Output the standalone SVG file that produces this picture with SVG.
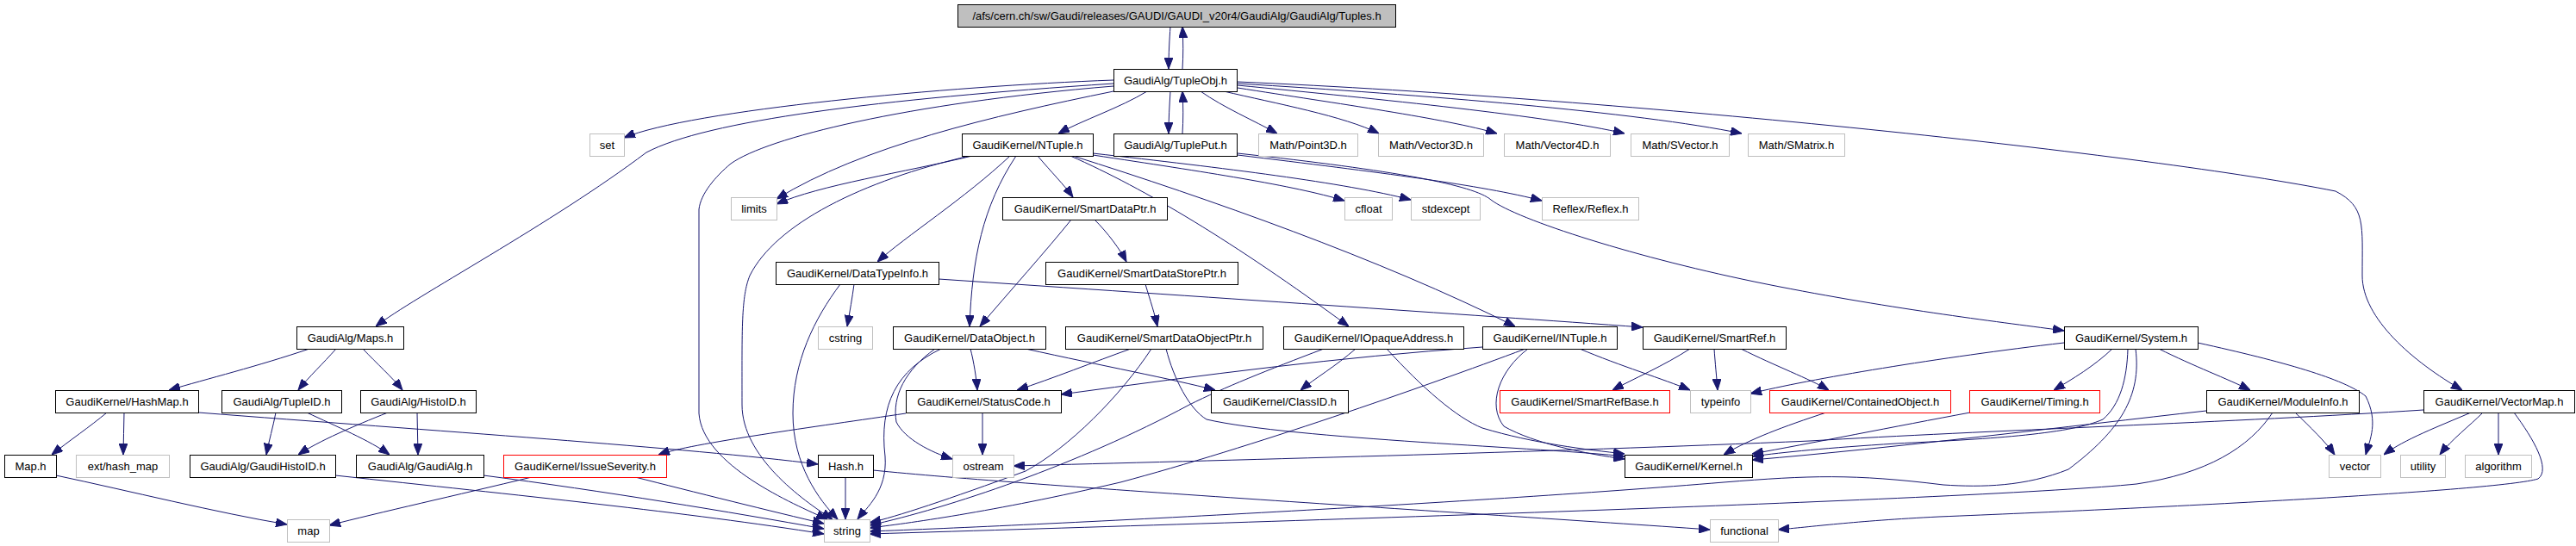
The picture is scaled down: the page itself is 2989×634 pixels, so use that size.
<svg xmlns="http://www.w3.org/2000/svg" width="2989" height="634" viewBox="0 0 2989 634">
<style>
rect{fill:#fff;stroke:#000;stroke-width:1}
.g rect{stroke:#bfbfbf}
.r rect{stroke:#ff0000}
.root rect{fill:#bfbfbf}
text{font-family:"Liberation Sans",Arial,sans-serif;font-size:13px;text-anchor:middle;fill:#000}
#edges path{fill:none;stroke:#191970;stroke-width:1;marker-end:url(#a)}
</style>
<defs>
<marker id="a" markerWidth="13" markerHeight="10" refX="13" refY="5" orient="auto" markerUnits="userSpaceOnUse"><path d="M0,0 L13,5 L0,10 z" fill="#191970" stroke="#191970"/></marker>
</defs>
<rect x="0" y="0" width="2989" height="634" style="fill:#fff;stroke:none"/>
<g id="edges">
<path d="M1358,31 C1357,45 1356,62 1356,80"/>
<path d="M1372,80 C1373,65 1373,48 1372,31"/>
<path d="M1292,93 C1100,100 800,128 724,160"/>
<path d="M1292,97 C1020,115 820,140 750,177 C640,260 480,345 436,379"/>
<path d="M1292,100 C1050,120 890,160 848,190 C830,205 813,225 811,243 L811,480 C815,540 920,585 960,603"/>
<path d="M1292,106 C1150,135 1000,170 901,231"/>
<path d="M1128,181 C1050,200 950,215 901,237"/>
<path d="M1331,106 C1300,125 1255,140 1228,155"/>
<path d="M1358,106 C1357,122 1356,138 1356,155"/>
<path d="M1372,155 C1373,140 1373,122 1372,106"/>
<path d="M1393,106 C1420,125 1455,140 1482,155"/>
<path d="M1420,106 C1480,120 1560,135 1600,155"/>
<path d="M1436,102 C1550,120 1680,138 1737,155"/>
<path d="M1436,99 C1600,115 1800,135 1885,155"/>
<path d="M1436,97 C1650,110 1900,130 2021,155"/>
<path d="M1436,95 C1900,115 2500,180 2710,222 C2745,240 2741,260 2741,320 C2741,370 2800,420 2857,453"/>
<path d="M1125,181 C1000,210 900,260 870,320 C860,345 861,380 861,470 C861,530 930,580 966,603"/>
<path d="M1172,181 C1120,230 1050,275 1018,304"/>
<path d="M1179,181 C1140,240 1128,300 1125,379"/>
<path d="M1204,181 C1220,200 1235,215 1245,229"/>
<path d="M1242,181 C1330,220 1430,280 1565,379"/>
<path d="M1245,181 C1400,230 1600,300 1758,379"/>
<path d="M1268,180 C1400,200 1500,215 1560,233"/>
<path d="M1268,178 C1420,195 1560,212 1637,232"/>
<path d="M1436,180 C1600,200 1720,215 1789,233"/>
<path d="M1436,178 C1620,198 1710,215 1730,232 C1760,255 1900,300 2050,330 C2200,360 2330,375 2395,384"/>
<path d="M1243,255 C1215,290 1170,340 1137,379"/>
<path d="M1270,255 C1285,270 1300,290 1307,304"/>
<path d="M1329,330 C1335,350 1340,365 1343,379"/>
<path d="M991,330 C989,345 986,362 983,379"/>
<path d="M975,330 C945,370 920,420 920,480 C920,540 950,580 972,603"/>
<path d="M1089,324 C1400,345 1700,365 1906,380"/>
<path d="M1092,405 C1040,430 1020,470 1027,530 C1030,570 1005,590 995,603"/>
<path d="M1085,405 C1050,430 1035,460 1040,490 C1050,510 1080,525 1105,533"/>
<path d="M1126,405 C1130,420 1133,440 1134,453"/>
<path d="M1190,405 C1280,425 1360,440 1410,453"/>
<path d="M1312,405 C1270,420 1220,440 1180,453"/>
<path d="M1336,405 C1300,460 1240,520 1190,547 C1100,580 1040,600 1009,607"/>
<path d="M1353,405 C1362,440 1380,475 1400,487 C1500,510 1800,520 1885,530"/>
<path d="M1573,405 C1550,425 1525,440 1509,453"/>
<path d="M1609,405 C1650,450 1690,485 1720,497 C1780,515 1840,522 1885,527"/>
<path d="M1536,405 C1470,430 1420,450 1380,470 C1250,540 1100,590 1009,610"/>
<path d="M1720,403 C1550,415 1400,435 1231,458"/>
<path d="M1770,405 C1650,450 1450,520 1300,560 C1150,595 1050,608 1009,613"/>
<path d="M1773,405 C1740,430 1725,470 1745,495 C1780,515 1840,527 1885,533"/>
<path d="M1833,405 C1880,425 1930,440 1961,453"/>
<path d="M1961,405 C1930,425 1895,440 1871,453"/>
<path d="M1989,405 C1990,420 1992,440 1993,453"/>
<path d="M2020,405 C2060,425 2100,440 2122,453"/>
<path d="M2395,398 C2250,415 2100,440 2031,457"/>
<path d="M2451,405 C2430,425 2405,440 2383,453"/>
<path d="M2505,405 C2545,425 2585,440 2611,453"/>
<path d="M2550,398 C2650,420 2720,440 2745,460 C2760,490 2750,510 2745,528"/>
<path d="M2469,405 C2468,440 2460,470 2440,487 C2400,505 2300,510 2200,515 C2120,520 2070,525 2033,530"/>
<path d="M2478,405 C2485,460 2460,500 2400,545 C2350,565 2300,566 2255,563 C2150,550 2100,552 2000,560 C1700,585 1200,610 1009,617"/>
<path d="M2286,479 C2200,495 2100,515 2033,527"/>
<path d="M2560,477 C2400,495 2200,520 2033,534"/>
<path d="M2663,479 C2680,495 2700,515 2709,528"/>
<path d="M2637,479 C2610,520 2560,550 2479,562 C2300,580 1500,605 1009,620"/>
<path d="M2867,479 C2830,495 2790,510 2766,528"/>
<path d="M2881,479 C2865,495 2845,510 2831,528"/>
<path d="M2899,479 L2899,528"/>
<path d="M2917,479 C2940,510 2960,545 2945,556 C2900,570 2500,590 2250,600 C2150,605 2100,612 2063,615"/>
<path d="M2812,476 C2600,490 2300,500 2100,512 C1800,525 1400,535 1176,541"/>
<path d="M2119,479 C2070,495 2030,510 2000,528"/>
<path d="M1051,480 C950,495 800,515 764,528"/>
<path d="M1140,479 L1140,528"/>
<path d="M981,554 L981,603"/>
<path d="M1013,546 C1200,565 1700,595 1984,615"/>
<path d="M230,479 C500,500 800,520 949,539"/>
<path d="M124,479 C105,495 80,512 60,528"/>
<path d="M144,479 C144,495 143,512 143,528"/>
<path d="M359,405 C300,425 240,440 196,453"/>
<path d="M390,405 C375,422 358,438 346,453"/>
<path d="M421,405 C437,422 455,438 467,453"/>
<path d="M320,479 C317,495 312,512 309,528"/>
<path d="M356,479 C390,495 430,512 452,528"/>
<path d="M450,479 C410,495 370,512 346,528"/>
<path d="M484,479 L485,528"/>
<path d="M389,552 C600,575 800,595 956,620"/>
<path d="M561,552 C700,570 850,595 956,614"/>
<path d="M737,554 C800,570 900,595 956,608"/>
<path d="M617,554 C530,575 440,595 382,610"/>
<path d="M65,552 C150,570 250,595 333,609"/>
</g>
<g id="n_root" class="root"><rect x="1111.5" y="5.5" width="508" height="26"/><text x="1365.5" y="23">/afs/cern.ch/sw/Gaudi/releases/GAUDI/GAUDI_v20r4/GaudiAlg/GaudiAlg/Tuples.h</text></g>
<g id="n_tupleobj"><rect x="1292.5" y="80.5" width="143" height="26"/><text x="1364" y="98">GaudiAlg/TupleObj.h</text></g>
<g id="n_set" class="g"><rect x="684.5" y="155.5" width="40" height="26"/><text x="704.5" y="173">set</text></g>
<g id="n_ntuple"><rect x="1116.5" y="155.5" width="152" height="26"/><text x="1192.5" y="173">GaudiKernel/NTuple.h</text></g>
<g id="n_tupleput"><rect x="1292.5" y="155.5" width="143" height="26"/><text x="1364" y="173">GaudiAlg/TuplePut.h</text></g>
<g id="n_point3d" class="g"><rect x="1460.5" y="155.5" width="115" height="26"/><text x="1518" y="173">Math/Point3D.h</text></g>
<g id="n_vector3d" class="g"><rect x="1599.5" y="155.5" width="122" height="26"/><text x="1660.5" y="173">Math/Vector3D.h</text></g>
<g id="n_vector4d" class="g"><rect x="1745.5" y="155.5" width="123" height="26"/><text x="1807" y="173">Math/Vector4D.h</text></g>
<g id="n_svector" class="g"><rect x="1892.5" y="155.5" width="114" height="26"/><text x="1949.5" y="173">Math/SVector.h</text></g>
<g id="n_smatrix" class="g"><rect x="2028.5" y="155.5" width="112" height="26"/><text x="2084.5" y="173">Math/SMatrix.h</text></g>
<g id="n_limits" class="g"><rect x="848.5" y="229.5" width="53" height="26"/><text x="875" y="247">limits</text></g>
<g id="n_smartdataptr"><rect x="1163.5" y="229.5" width="191" height="26"/><text x="1259" y="247">GaudiKernel/SmartDataPtr.h</text></g>
<g id="n_cfloat" class="g"><rect x="1560.5" y="229.5" width="55" height="26"/><text x="1588" y="247">cfloat</text></g>
<g id="n_stdexcept" class="g"><rect x="1637.5" y="229.5" width="80" height="26"/><text x="1677.5" y="247">stdexcept</text></g>
<g id="n_reflex" class="g"><rect x="1789.5" y="229.5" width="112" height="26"/><text x="1845.5" y="247">Reflex/Reflex.h</text></g>
<g id="n_datatypeinfo"><rect x="900.5" y="304.5" width="189" height="26"/><text x="995" y="322">GaudiKernel/DataTypeInfo.h</text></g>
<g id="n_smartdatastoreptr"><rect x="1213.5" y="304.5" width="223" height="26"/><text x="1325" y="322">GaudiKernel/SmartDataStorePtr.h</text></g>
<g id="n_maps"><rect x="344.5" y="379.5" width="124" height="26"/><text x="406.5" y="397">GaudiAlg/Maps.h</text></g>
<g id="n_cstring" class="g"><rect x="949.5" y="379.5" width="63" height="26"/><text x="981" y="397">cstring</text></g>
<g id="n_dataobject"><rect x="1036.5" y="379.5" width="177" height="26"/><text x="1125" y="397">GaudiKernel/DataObject.h</text></g>
<g id="n_smartdataobjectptr"><rect x="1236.5" y="379.5" width="229" height="26"/><text x="1351" y="397">GaudiKernel/SmartDataObjectPtr.h</text></g>
<g id="n_iopaqueaddress"><rect x="1489.5" y="379.5" width="209" height="26"/><text x="1594" y="397">GaudiKernel/IOpaqueAddress.h</text></g>
<g id="n_intuple"><rect x="1720.5" y="379.5" width="156" height="26"/><text x="1798.5" y="397">GaudiKernel/INTuple.h</text></g>
<g id="n_smartref"><rect x="1906.5" y="379.5" width="166" height="26"/><text x="1989.5" y="397">GaudiKernel/SmartRef.h</text></g>
<g id="n_system"><rect x="2395.5" y="379.5" width="155" height="26"/><text x="2473" y="397">GaudiKernel/System.h</text></g>
<g id="n_hashmap"><rect x="64.5" y="453.5" width="166" height="26"/><text x="147.5" y="471">GaudiKernel/HashMap.h</text></g>
<g id="n_tupleid"><rect x="257.5" y="453.5" width="139" height="26"/><text x="327" y="471">GaudiAlg/TupleID.h</text></g>
<g id="n_histoid"><rect x="418.5" y="453.5" width="134" height="26"/><text x="485.5" y="471">GaudiAlg/HistoID.h</text></g>
<g id="n_statuscode"><rect x="1051.5" y="453.5" width="180" height="26"/><text x="1141.5" y="471">GaudiKernel/StatusCode.h</text></g>
<g id="n_classid"><rect x="1405.5" y="453.5" width="159" height="26"/><text x="1485" y="471">GaudiKernel/ClassID.h</text></g>
<g id="n_smartrefbase" class="r"><rect x="1740.5" y="453.5" width="197" height="26"/><text x="1839" y="471">GaudiKernel/SmartRefBase.h</text></g>
<g id="n_typeinfo" class="g"><rect x="1961.5" y="453.5" width="70" height="26"/><text x="1996.5" y="471">typeinfo</text></g>
<g id="n_containedobject" class="r"><rect x="2053.5" y="453.5" width="210" height="26"/><text x="2158.5" y="471">GaudiKernel/ContainedObject.h</text></g>
<g id="n_timing" class="r"><rect x="2285.5" y="453.5" width="151" height="26"/><text x="2361" y="471">GaudiKernel/Timing.h</text></g>
<g id="n_moduleinfo"><rect x="2560.5" y="453.5" width="177" height="26"/><text x="2649" y="471">GaudiKernel/ModuleInfo.h</text></g>
<g id="n_vectormap"><rect x="2812.5" y="453.5" width="175" height="26"/><text x="2900" y="471">GaudiKernel/VectorMap.h</text></g>
<g id="n_map_h"><rect x="5.5" y="528.5" width="60" height="26"/><text x="35.5" y="546">Map.h</text></g>
<g id="n_ext_hash_map" class="g"><rect x="88.5" y="528.5" width="108" height="26"/><text x="142.5" y="546">ext/hash_map</text></g>
<g id="n_gaudihistoid"><rect x="220.5" y="528.5" width="169" height="26"/><text x="305" y="546">GaudiAlg/GaudiHistoID.h</text></g>
<g id="n_gaudialg"><rect x="413.5" y="528.5" width="148" height="26"/><text x="487.5" y="546">GaudiAlg/GaudiAlg.h</text></g>
<g id="n_issueseverity" class="r"><rect x="584.5" y="528.5" width="189" height="26"/><text x="679" y="546">GaudiKernel/IssueSeverity.h</text></g>
<g id="n_hash"><rect x="949.5" y="528.5" width="64" height="26"/><text x="981.5" y="546">Hash.h</text></g>
<g id="n_ostream" class="g"><rect x="1105.5" y="528.5" width="71" height="26"/><text x="1141" y="546">ostream</text></g>
<g id="n_kernel"><rect x="1885.5" y="528.5" width="148" height="26"/><text x="1959.5" y="546">GaudiKernel/Kernel.h</text></g>
<g id="n_vector" class="g"><rect x="2702.5" y="528.5" width="60" height="26"/><text x="2732.5" y="546">vector</text></g>
<g id="n_utility" class="g"><rect x="2785.5" y="528.5" width="52" height="26"/><text x="2811.5" y="546">utility</text></g>
<g id="n_algorithm" class="g"><rect x="2860.5" y="528.5" width="77" height="26"/><text x="2899" y="546">algorithm</text></g>
<g id="n_map" class="g"><rect x="333.5" y="603.5" width="49" height="26"/><text x="358" y="621">map</text></g>
<g id="n_string" class="g"><rect x="956.5" y="603.5" width="53" height="26"/><text x="983" y="621">string</text></g>
<g id="n_functional" class="g"><rect x="1984.5" y="603.5" width="79" height="26"/><text x="2024" y="621">functional</text></g>
</svg>
